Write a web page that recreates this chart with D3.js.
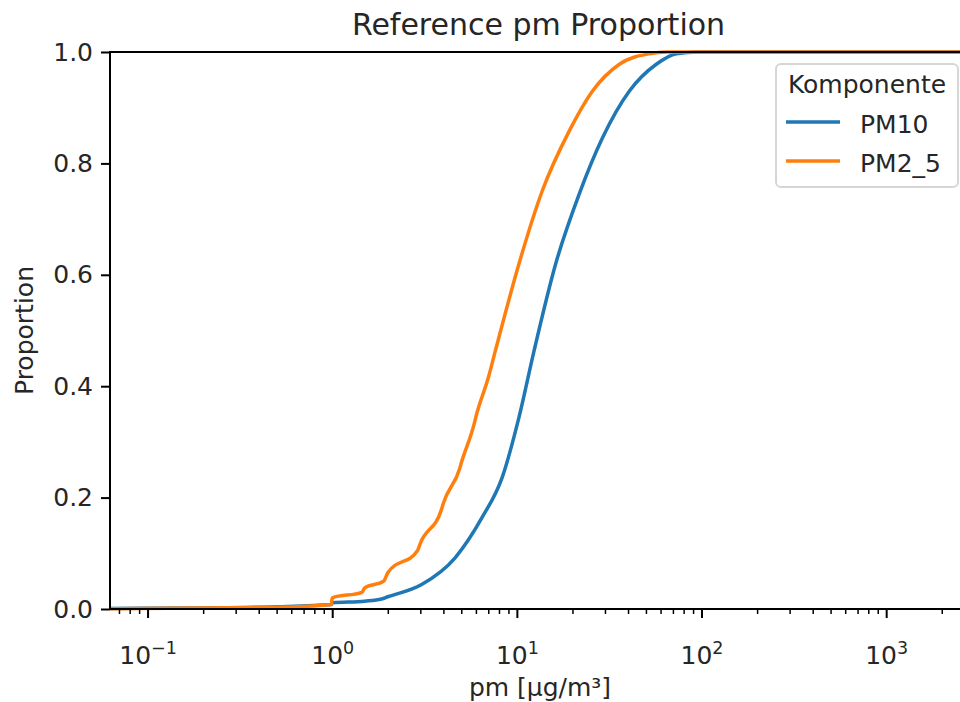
<!DOCTYPE html>
<html>
<head>
<meta charset="utf-8">
<script src="https://cdn.jsdelivr.net/npm/d3@7"></script>
<style>
  html, body { margin: 0; padding: 0; background: #fff; }
  svg { display: block; font-family: "DejaVu Sans", sans-serif; }
</style>
</head>
<body>
<div id="chart"></div>
<script>
// ECDF stuetzpunkte
var komponenten = ['PM10', 'PM2_5'];
var farben = ['#1f77b4', '#ff7f0e'];

var pm10X = [0.0626, 0.2, 0.5, 0.99, 1.0, 1.5, 1.85, 2.0, 3.05, 4.63, 6.47, 8.32, 10.25, 12.38, 16.2, 21.7, 29.1, 40.7, 56.9, 73.1, 95, 2880];
var pm10Y = [0.001, 0.002, 0.004, 0.008, 0.011, 0.014, 0.018, 0.022, 0.044, 0.092, 0.164, 0.236, 0.343, 0.463, 0.619, 0.744, 0.846, 0.93, 0.978, 0.997, 1.0, 1.0];

var pm25X = [0.0626, 0.5, 0.99, 1.0, 1.45, 1.5, 1.9, 2.0, 2.9, 3.0, 3.9, 4.0, 4.9, 5.0, 5.9, 6.0, 7.0, 7.64, 10.25, 13.7, 19.2, 25.7, 35.9, 52.3, 65, 2880];
var pm25Y = [0.0005, 0.003, 0.008, 0.02, 0.03, 0.038, 0.05, 0.065, 0.105, 0.118, 0.178, 0.19, 0.252, 0.262, 0.335, 0.345, 0.415, 0.463, 0.619, 0.75, 0.858, 0.93, 0.978, 0.997, 1.0, 1.0];

var yTicks = [0, 0.2, 0.4, 0.6, 0.8, 1.0];
var xExponents = [-1, 0, 1, 2, 3];

var width = 960, height = 702;
var plotLeft = 110, plotRight = 971, plotTop = 52, plotBottom = 609;

var svg = d3.select('#chart')
    .append('svg')
    .attr('width', width)
    .attr('height', height);

var x = d3.scaleLog().domain([0.0626, 2880]).range([plotLeft, plotRight]);
var y = d3.scaleLinear().domain([0, 1]).range([plotBottom, plotTop]);

svg.append('clipPath').attr('id', 'plotclip')
    .append('rect')
    .attr('x', plotLeft).attr('y', plotTop - 3)
    .attr('width', plotRight - plotLeft).attr('height', plotBottom - plotTop + 6);

var reihen = [
    d3.zip(pm10X, pm10Y),
    d3.zip(pm25X, pm25Y)
];

var line = d3.line()
    .curve(d3.curveMonotoneX)
    .x(function (d) { return x(d[0]); })
    .y(function (d) { return y(d[1]); });

var plot = svg.append('g').attr('clip-path', 'url(#plotclip)');
reihen.forEach(function (r, i) {
    plot.append('path')
        .attr('d', line(r))
        .attr('fill', 'none')
        .attr('stroke', farben[i])
        .attr('stroke-width', 3.5)
        .attr('stroke-linejoin', 'round')
        .attr('stroke-linecap', 'square');
});

// achsen-rahmen
svg.append('rect')
    .attr('x', plotLeft).attr('y', plotTop)
    .attr('width', plotRight - plotLeft).attr('height', plotBottom - plotTop)
    .attr('fill', 'none')
    .attr('stroke', '#000')
    .attr('stroke-width', 2);

// y achse
var yAxis = svg.append('g')
    .attr('transform', 'translate(' + plotLeft + ',0)')
    .call(d3.axisLeft(y).tickValues(yTicks).tickFormat(d3.format('.1f')).tickSize(9).tickPadding(8));
yAxis.select('.domain').remove();
yAxis.selectAll('line').attr('stroke', '#000').attr('stroke-width', 2);
yAxis.selectAll('text').attr('font-size', 25).attr('fill', '#262626')
    .attr('font-family', '"DejaVu Sans", sans-serif');

// x achse, minor ticks
var minor = [];
for (var e = -2; e <= 3; e++) {
    for (var m = 2; m <= 9; m++) {
        var v = m * Math.pow(10, e);
        if (v >= 0.0626 && v <= 2880) minor.push(v);
    }
}
var xMinor = svg.append('g')
    .attr('transform', 'translate(0,' + plotBottom + ')')
    .call(d3.axisBottom(x).tickValues(minor).tickFormat('').tickSize(5));
xMinor.select('.domain').remove();
xMinor.selectAll('line').attr('stroke', '#000').attr('stroke-width', 1.5);

var xMajor = svg.append('g')
    .attr('transform', 'translate(0,' + plotBottom + ')')
    .call(d3.axisBottom(x).tickValues(xExponents.map(function (k) { return Math.pow(10, k); }))
        .tickFormat('').tickSize(9));
xMajor.select('.domain').remove();
xMajor.selectAll('line').attr('stroke', '#000').attr('stroke-width', 2);

xMajor.selectAll('.tick').each(function (d, i) {
    var k = xExponents[i];
    var t = d3.select(this).append('text')
        .attr('y', 55)
        .attr('text-anchor', 'middle')
        .attr('font-size', 25)
        .attr('fill', '#262626')
        .attr('font-family', '"DejaVu Sans", sans-serif');
    t.append('tspan').text('10');
    t.append('tspan')
        .attr('dy', -10)
        .attr('font-size', 17.5)
        .text(k < 0 ? '\u2212' + Math.abs(k) : String(k));
});

// beschriftungen
svg.append('text')
    .attr('x', (plotLeft + plotRight) / 2 - 2)
    .attr('y', 35)
    .attr('text-anchor', 'middle')
    .attr('font-size', 30)
    .attr('fill', '#262626')
    .text('Reference pm Proportion');

svg.append('text')
    .attr('x', 540)
    .attr('y', 696)
    .attr('text-anchor', 'middle')
    .attr('font-size', 25)
    .attr('fill', '#262626')
    .text('pm [\u00b5g/m\u00b3]');

svg.append('text')
    .attr('transform', 'translate(33,' + ((plotTop + plotBottom) / 2) + ') rotate(-90)')
    .attr('text-anchor', 'middle')
    .attr('font-size', 25)
    .attr('fill', '#262626')
    .text('Proportion');

// legende
var lg = svg.append('g').attr('transform', 'translate(776,64)');
lg.append('rect')
    .attr('width', 182).attr('height', 123)
    .attr('rx', 5)
    .attr('fill', '#fff').attr('fill-opacity', 0.8)
    .attr('stroke', '#d6d6d6').attr('stroke-width', 2);
lg.append('text')
    .attr('x', 91).attr('y', 29)
    .attr('text-anchor', 'middle')
    .attr('font-size', 25)
    .attr('fill', '#262626')
    .text('Komponente');
komponenten.forEach(function (k, i) {
    var ly = 58 + i * 39;
    lg.append('line')
        .attr('x1', 10).attr('x2', 64)
        .attr('y1', ly).attr('y2', ly)
        .attr('stroke', farben[i]).attr('stroke-width', 3.5);
    lg.append('text')
        .attr('x', 84).attr('y', ly + 11)
        .attr('font-size', 25)
        .attr('fill', '#262626')
        .text(k);
});
</script>
</body>
</html>
